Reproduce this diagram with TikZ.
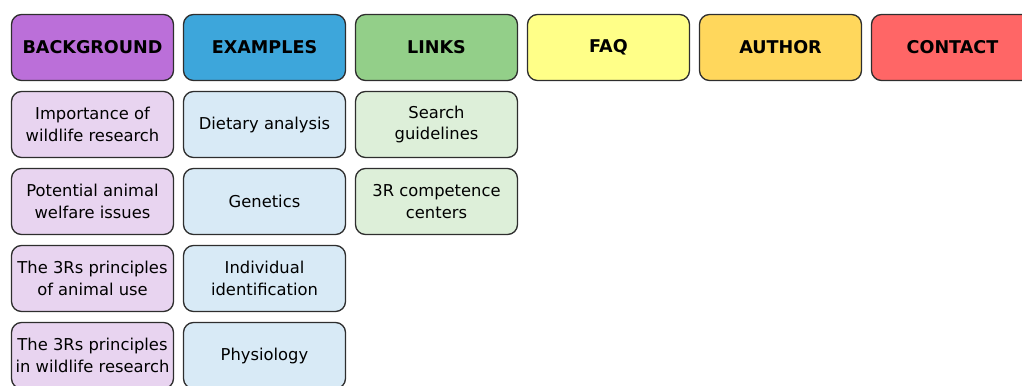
\documentclass[tikz,border=0pt]{standalone}
\usepackage{fontspec}
\setmainfont{DejaVu Sans}
\definecolor{bgdark}{HTML}{BB6FD9}
\definecolor{bglight}{HTML}{E8D4F0}
\definecolor{exdark}{HTML}{3DA6DB}
\definecolor{exlight}{HTML}{D8EAF6}
\definecolor{lkdark}{HTML}{93CF89}
\definecolor{lklight}{HTML}{DDEFD9}
\definecolor{faqfill}{HTML}{FFFF88}
\definecolor{authfill}{HTML}{FFD75C}
\definecolor{contfill}{HTML}{FF6666}
\definecolor{boxline}{HTML}{2E2E2E}
\tikzstyle{menu} = [rectangle, rounded corners=0.2cm, minimum width=3.24cm, minimum height=1.32cm, text centered, draw=boxline, line width=0.75pt, inner sep=2pt]
\tikzstyle{head} = [menu, font=\fontsize{10}{12}\selectfont\bfseries]
\tikzstyle{item} = [menu, align=center, font=\fontsize{9.3}{12.5}\selectfont]

\begin{document}
\begin{tikzpicture}[node distance=1.54cm]

\path[use as bounding box, clip] (0,0) rectangle (20.44,-7.7);

%% HEADERS

\node (bg) [head, fill=bgdark] at (1.85,-0.95) {BACKGROUND};
\node (ex) [head, fill=exdark, right of=bg, node distance=3.44cm] {EXAMPLES};
\node (lk) [head, fill=lkdark, right of=ex, node distance=3.44cm] {LINKS};
\node (faq) [head, fill=faqfill, right of=lk, node distance=3.44cm] {FAQ};
\node (auth) [head, fill=authfill, right of=faq, node distance=3.44cm] {AUTHOR};
\node (cont) [head, fill=contfill, right of=auth, node distance=3.44cm] {CONTACT};

%% ITEMS

\node (bg1) [item, fill=bglight, below of=bg] {Importance of\\wildlife research};
\node (bg2) [item, fill=bglight, below of=bg1] {Potential animal\\welfare issues};
\node (bg3) [item, fill=bglight, below of=bg2] {The 3Rs principles\\of animal use};
\node (bg4) [item, fill=bglight, below of=bg3] {The 3Rs principles\\in wildlife research};

\node (ex1) [item, fill=exlight, below of=ex] {Dietary analysis};
\node (ex2) [item, fill=exlight, below of=ex1] {Genetics};
\node (ex3) [item, fill=exlight, below of=ex2] {Individual\\identification};
\node (ex4) [item, fill=exlight, below of=ex3] {Physiology};

\node (lk1) [item, fill=lklight, below of=lk] {Search\\guidelines};
\node (lk2) [item, fill=lklight, below of=lk1] {3R competence\\centers};

\end{tikzpicture}
\end{document}
